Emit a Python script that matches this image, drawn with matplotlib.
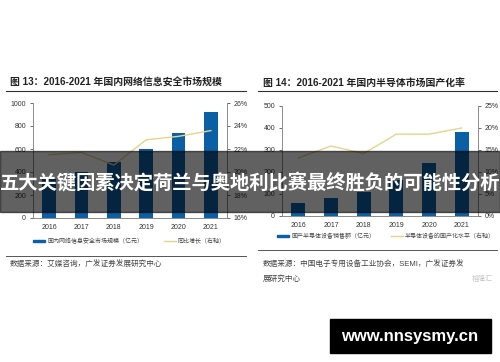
import matplotlib
matplotlib.use("Agg")
import matplotlib.pyplot as plt
from matplotlib.patches import Rectangle
from matplotlib.lines import Line2D

plt.rcParams['font.family'] = ['Liberation Sans', 'Noto Sans CJK SC', 'DejaVu Sans']

# --- data ---
years = ["2016", "2017", "2018", "2019", "2020", "2021"]
sec_market = [338, 402, 487, 600, 739, 922]          # 亿元
sec_growth = [21.5, 21.7, 20.6, 22.8, 23.1, 23.6]    # %
semi_sales = [57, 82, 109, 162, 241, 382]            # 亿元
semi_rate = [13.2, 15.9, 14.2, 18.6, 18.6, 20.0]     # %

BLUE = "#0b5fa5"
LINE = "#e3d58c"
W, H = 500, 362


def box(x0, y0, x1, y1):
    return [x0 / W, 1 - y1 / H, (x1 - x0) / W, (y1 - y0) / H]


def fx(x):
    return x / W


def fy(y):
    return 1 - y / H


fig = plt.figure(figsize=(5, 3.62), dpi=100)
fig.patch.set_facecolor("white")


def draw_panel(rect, bars, line, ylim, yticks, ylim2, yticks2, fmt2):
    ax = fig.add_axes(rect)
    ax2 = ax.twinx()
    x = range(len(years))
    ax.bar(x, bars, width=0.42, color=BLUE, zorder=2)
    ax2.plot(x, line, color=LINE, lw=1.0, zorder=3)
    ax.set_xlim(-0.5, 5.5)
    ax.set_ylim(*ylim)
    ax.set_yticks(yticks)
    ax.set_yticklabels([str(v) for v in yticks])
    ax2.set_ylim(*ylim2)
    ax2.set_yticks(yticks2)
    ax2.set_yticklabels([fmt2(v) for v in yticks2])
    ax.set_xticks(list(x))
    ax.set_xticklabels(years)
    for a in (ax, ax2):
        a.spines["top"].set_visible(False)
        for s in ("left", "right", "bottom"):
            a.spines[s].set_color("#8c8c8c")
            a.spines[s].set_linewidth(0.6)
        a.tick_params(labelsize=5, colors="#333333", length=2, width=0.5,
                      pad=3)
    ax.tick_params(axis="x", length=0, pad=4)
    return ax


draw_panel(box(33, 103, 227, 218), sec_market, sec_growth,
           (0, 1000), [0, 200, 400, 600, 800, 1000],
           (16, 26), [16, 18, 20, 22, 24, 26], lambda v: f"{v}%")
draw_panel(box(282, 106, 478, 216), semi_sales, semi_rate,
           (0, 500), [0, 100, 200, 300, 400, 500],
           (0, 25), [0, 5, 10, 15, 20, 25], lambda v: f"{v}%")

# titles
fig.text(fx(10), fy(83), "图 13：2016-2021 年国内网络信息安全市场规模",
         fontsize=7.1, fontweight="bold", color="#222222", va="center")
fig.text(fx(263), fy(83), "图 14：2016-2021 年国内半导体市场国产化率",
         fontsize=7.1, fontweight="bold", color="#222222", va="center")
for x0, x1 in ((6, 246), (258, 497)):
    fig.add_artist(Line2D([fx(x0), fx(x1)], [fy(91), fy(91)],
                          color="#333333", lw=0.8))

# legends
def legend_item(x, y, kind, label):
    if kind == "bar":
        fig.add_artist(Rectangle((fx(x), fy(y) - 0.004), fx(12), 0.008,
                                 color=BLUE, transform=fig.transFigure))
    else:
        fig.add_artist(Line2D([fx(x), fx(x + 12)], [fy(y), fy(y)],
                              color=LINE, lw=1.0))
    fig.text(fx(x + 14), fy(y), label, fontsize=4.3, color="#444444",
             va="center")


legend_item(33, 241, "bar", "国内网络信息安全市场规模（亿元）")
legend_item(164, 241, "line", "同比增长（右轴）")
legend_item(277, 236, "bar", "国产半导体设备销售额（亿元）")
legend_item(391, 236, "line", "半导体设备的国产化水平（右轴）")

# sources
for x0, x1, y in ((6, 246, 256), (258, 497, 250)):
    fig.add_artist(Line2D([fx(x0), fx(x1)], [fy(y), fy(y)],
                          color="#555555", lw=0.7))
fig.text(fx(10), fy(265), "数据来源：艾媒咨询，广发证券发展研究中心",
         fontsize=5.5, color="#444444", va="center")
fig.text(fx(263), fy(265), "数据来源：中国电子专用设备工业协会，SEMI，广发证券发",
         fontsize=5.5, color="#444444", va="center")
fig.text(fx(263), fy(279), "展研究中心", fontsize=5.5, color="#444444",
         va="center")
fig.text(fx(482), fy(279), "格隆汇", fontsize=5, color="#c8c8c8",
         va="center", ha="center")

# banner overlay
fig.add_artist(Rectangle((0, fy(212)), 1, fy(151) - fy(212), color="black",
                         alpha=0.62, transform=fig.transFigure, zorder=5))
fig.text(0.5, fy(182), "五大关键因素决定荷兰与奥地利比赛最终胜负的可能性分析",
         fontsize=13.9, fontweight="bold", color="white", ha="center",
         va="center", zorder=6)

# site stamp
fig.add_artist(Rectangle((fx(330), fy(353)), fx(161), fy(319) - fy(353),
                         color="black", transform=fig.transFigure, zorder=5))
fig.text(fx(410), fy(336), "www.nnsysmy.cn", fontsize=12,
         fontweight="bold", color="white", ha="center", va="center",
         zorder=6)

fig.savefig("out.png", dpi=100)
